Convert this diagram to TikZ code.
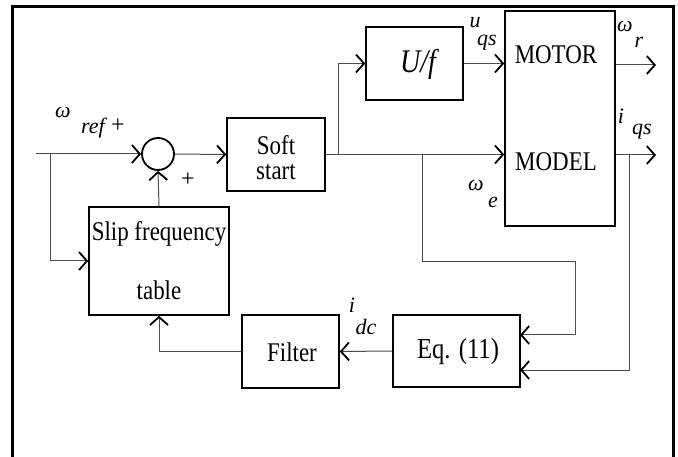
\documentclass[tikz,border=0pt]{standalone}
\usepackage{fontspec}
\setmainfont{Liberation Serif}
\usetikzlibrary{arrows.meta,calc}
\newcommand\cnd[1]{\scalebox{0.85}[1]{#1}}
\begin{document}
\begin{tikzpicture}[x=1pt,y=-1pt,
  blk/.style={draw=black,line width=1.6pt,minimum width=#1,inner sep=0pt},
  wire/.style={draw=black!70,line width=1pt},
  arr/.style={wire,-{Straight Barb[length=8pt,width=18pt,line width=1.8pt,color=black]}},
  lbl/.style={font=\fontsize{22}{24}\selectfont\itshape,inner sep=0pt},
  txt/.style={font=\fontsize{27}{30}\selectfont,inner sep=0pt}]
\useasboundingbox (0,0) rectangle (678,457);
% frame
\draw[line width=3pt] (12,457) -- (12,7) -- (673,7) -- (673,457);
% blocks
\node[draw,circle,line width=1.8pt,minimum size=32pt,inner sep=0pt] (sum) at (158,154) {};
\node[blk=98pt,minimum height=73pt] (soft) at (276,154.5) {};
\node[txt] (softt) at (276,145) {\cnd{Soft}};
\node[txt] (softs) at (276,172) {\cnd{start}};
\node[blk=140pt,minimum height=108pt] (slip) at (159,261) {};
\node[txt] (slipt) at (159,234) {\cnd{Slip frequency}};
\node[txt] (slipb) at (159,290) {\cnd{table}};
\node[blk=97pt,minimum height=73pt] (filter) at (290.5,351.5) {};
\node[txt] (filtert) at (292,352) {\cnd{Filter}};
\node[blk=127pt,minimum height=72pt] (eq) at (456.5,351) {};
\node[txt,font=\fontsize{29}{32}\selectfont] (eqt) at (458,352) {\cnd{Eq. (11)}};
\node[blk=97pt,minimum height=73pt] (uf) at (414.5,63.5) {};
\node[txt,font=\fontsize{33}{36}\selectfont\itshape] (uft) at (418,64) {\cnd{U/f}};
\node[blk=110pt,minimum height=215pt] (motor) at (560,118.5) {};
\node[txt] (motort) at (556,55) {\cnd{MOTOR}};
\node[txt] (modelt) at (556,162) {\cnd{MODEL}};
% coordinates
\coordinate (in) at (36,154);
\coordinate (j1) at (50,154);
\coordinate (j2) at (338,154.5);
\coordinate (j3) at (422,154.5);
\coordinate (c1) at (422,262);
\coordinate (c2) at (575,262);
\coordinate (e1) at (520,335);
\coordinate (e2) at (520,370);
\coordinate (j4) at (629,155);
\coordinate (o1) at (656,65);
\coordinate (o2) at (656,155);
% connectors
\draw[arr] (in) -- (sum.west);
\draw[arr] (j1) |- (slip.west);
\draw[arr] (sum.east) -- (soft.west);
\draw[arr] (slip.north) -- (sum.south);
\draw[arr] (soft.east) -- (soft.east -| motor.west);
\draw[arr] (j2) |- (uf.west);
\draw[arr] (uf.east) -- (uf.east -| motor.west);
\draw[arr] (j3) -- (c1) -- (c2) |- (e1);
\draw[arr] (motor.east |- o1) -- (o1);
\draw[arr] (motor.east |- o2) -- (o2);
\draw[arr] (j4) |- (e2);
\draw[arr] (eq.west) -- (filter.east);
\draw[arr] (filter.west) -| (slip.south);
% labels
\node[lbl] (wref) at (63,112) {ω};
\node[lbl] (ref) at (93,128) {ref};
\node[txt,font=\fontsize{24}{26}\selectfont] (plus1) at (118,126) {+};
\node[txt,font=\fontsize{24}{26}\selectfont] (plus2) at (188,180) {+};
\node[lbl] (u) at (475,23) {u};
\node[lbl] (uqs) at (487,43) {qs};
\node[lbl] (we) at (476,185) {ω};
\node[lbl] (e) at (493,202) {e};
\node[lbl] (wr) at (625,26) {ω};
\node[lbl] (r) at (639,42) {r};
\node[lbl] (i) at (621,116) {i};
\node[lbl] (iqs) at (642,132) {qs};
\node[lbl] (idc) at (352,305) {i};
\node[lbl] (dc) at (366,327) {dc};
\end{tikzpicture}
\end{document}
